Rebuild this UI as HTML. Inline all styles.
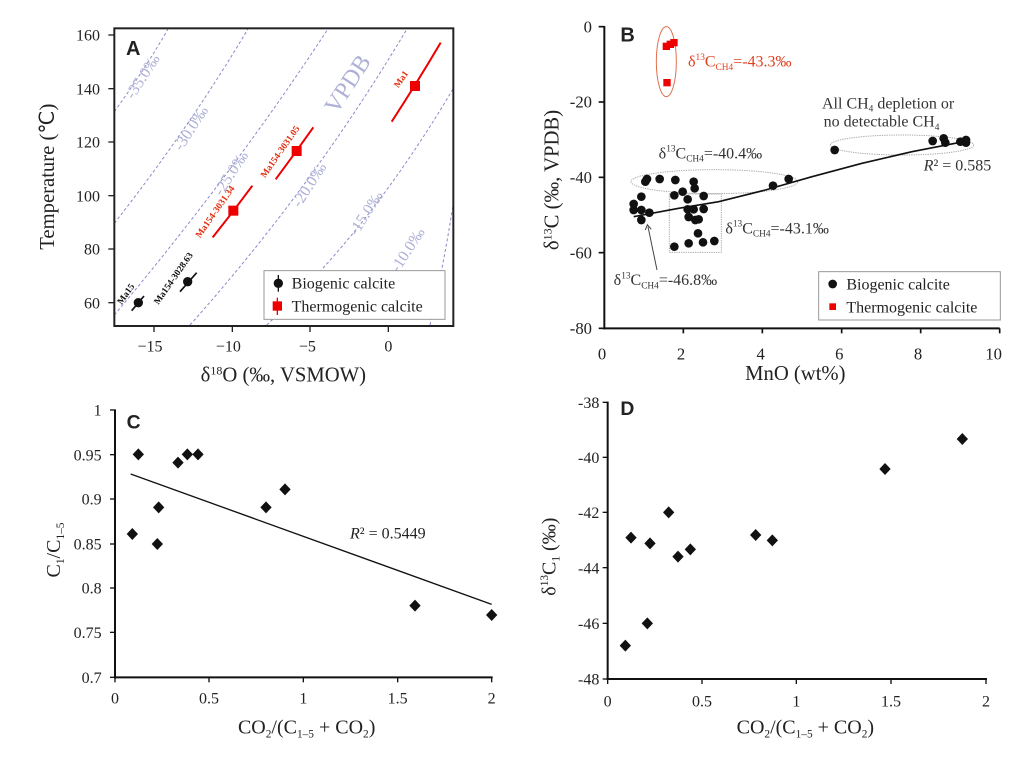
<!DOCTYPE html>
<html><head><meta charset="utf-8"><style>html,body{margin:0;padding:0;background:#fff;}svg{display:block}</style></head>
<body>
<svg width="1024" height="767" viewBox="0 0 3072 2301" xmlns="http://www.w3.org/2000/svg" font-family="'Liberation Serif', serif">
<rect width="3072" height="2301" fill="#fff"/>
<!-- Panel A -->
<g>
<g fill="none" stroke="#8a8acb" stroke-width="3" stroke-dasharray="9,7">
<path d="M343,335 Q440,200 505,85"/>
<path d="M343,670 Q570,380 745,85"/>
<path d="M343,945 Q700,520 985,85"/>
<path d="M570,975 Q940,560 1222,85"/>
<path d="M800,975 Q1110,690 1360,265"/>
<path d="M1290,975 Q1330,800 1360,610"/>
</g>
<g fill="#aeb0d6" font-size="48">
<text transform="translate(400,300) rotate(-57)">-35.0‰</text>
<text transform="translate(545,455) rotate(-57)">-30.0‰</text>
<text transform="translate(665,590) rotate(-57)">-25.0‰</text>
<text transform="translate(900,625) rotate(-57)">-20.0‰</text>
<text transform="translate(1070,710) rotate(-57)">-15.0‰</text>
<text transform="translate(1195,820) rotate(-57)">-10.0‰</text>
<text transform="translate(1010,345) rotate(-57)" font-size="72">VPDB</text>
</g>
<rect x="343" y="85" width="1017" height="893" fill="none" stroke="#222" stroke-width="6"/>
<g stroke="#222" stroke-width="4">
<line x1="325" y1="105" x2="343" y2="105"/><line x1="325" y1="266" x2="343" y2="266"/><line x1="325" y1="426" x2="343" y2="426"/><line x1="325" y1="587" x2="343" y2="587"/><line x1="325" y1="747" x2="343" y2="747"/><line x1="325" y1="908" x2="343" y2="908"/>
<line x1="462" y1="978" x2="462" y2="996"/><line x1="697" y1="978" x2="697" y2="996"/><line x1="930" y1="978" x2="930" y2="996"/><line x1="1165" y1="978" x2="1165" y2="996"/>
</g>
<g font-size="48" fill="#222" text-anchor="end">
<text x="300" y="122">160</text><text x="300" y="283">140</text><text x="300" y="443">120</text><text x="300" y="604">100</text><text x="300" y="764">80</text><text x="300" y="925">60</text>
</g>
<g font-size="48" fill="#222" text-anchor="middle">
<text x="450" y="1055">−15</text><text x="685" y="1055">−10</text><text x="922" y="1055">−5</text><text x="1165" y="1055">0</text>
<text x="850" y="1145" font-size="62">δ<tspan font-size="36" dy="-22">18</tspan><tspan dy="22">O (‰, VSMOW)</tspan></text>
<text transform="translate(162,530) rotate(-90)" font-size="62">Temperature (℃)</text>
</g>
<text x="378" y="165" font-family="'Liberation Sans',sans-serif" font-weight="bold" font-size="60" fill="#222">A</text>
<g stroke="#e00" stroke-width="6" fill="none">
<path d="M1175,365 Q1250,250 1322,128"/><path d="M827,538 Q885,460 940,382"/><path d="M638,712 Q700,635 757,557"/>
</g>
<g fill="#e00"><rect x="1230" y="243" width="30" height="30"/><rect x="875" y="438" width="30" height="30"/><rect x="685" y="617" width="30" height="30"/></g>
<g stroke="#111" stroke-width="5"><line x1="395" y1="932" x2="432" y2="888"/><line x1="540" y1="875" x2="590" y2="818"/></g>
<g fill="#111"><circle cx="415" cy="908" r="14"/><circle cx="563" cy="845" r="14"/></g>
<g font-size="28" font-weight="bold">
<text transform="translate(1195,265) rotate(-55)" fill="#e03010">Ma1</text>
<text transform="translate(795,535) rotate(-55)" fill="#e03010">Ma154-3031.05</text>
<text transform="translate(600,715) rotate(-55)" fill="#e03010">Ma154-3031.34</text>
<text transform="translate(365,915) rotate(-55)" fill="#111">Ma15</text>
<text transform="translate(475,915) rotate(-55)" fill="#111">Ma154-3028.63</text>
</g>
<rect x="792" y="812" width="543" height="146" fill="#fff" stroke="#999" stroke-width="3"/>
<line x1="835" y1="825" x2="835" y2="875" stroke="#111" stroke-width="4"/><circle cx="835" cy="850" r="14" fill="#111"/>
<line x1="832" y1="893" x2="832" y2="945" stroke="#e00" stroke-width="4"/><rect x="818" y="904" width="28" height="28" fill="#e00"/>
<g font-size="48" fill="#222"><text x="875" y="866">Biogenic calcite</text><text x="875" y="935">Thermogenic calcite</text></g>
</g>

<!-- Panel B -->
<g transform="translate(1536,0)">
<g stroke="#111" stroke-width="6"><line x1="277" y1="78" x2="277" y2="988"/><line x1="274" y1="985" x2="1463" y2="985"/></g>
<g stroke="#111" stroke-width="5">
<line x1="260" y1="80" x2="277" y2="80"/><line x1="260" y1="306" x2="277" y2="306"/><line x1="260" y1="532" x2="277" y2="532"/><line x1="260" y1="758" x2="277" y2="758"/><line x1="260" y1="985" x2="277" y2="985"/>
<line x1="514" y1="985" x2="514" y2="1000"/><line x1="751" y1="985" x2="751" y2="1000"/><line x1="989" y1="985" x2="989" y2="1000"/><line x1="1226" y1="985" x2="1226" y2="1000"/><line x1="1463" y1="985" x2="1463" y2="1000"/>
</g>
<g font-size="50" fill="#222" text-anchor="end">
<text x="240" y="97">0</text><text x="240" y="323">-20</text><text x="240" y="549">-40</text><text x="240" y="775">-60</text><text x="240" y="1002">-80</text>
</g>
<g font-size="50" fill="#222" text-anchor="middle">
<text x="270" y="1078">0</text><text x="507" y="1078">2</text><text x="746" y="1078">4</text><text x="982" y="1078">6</text><text x="1218" y="1078">8</text><text x="1445" y="1078">10</text>
<text x="850" y="1140" font-size="62">MnO (wt%)</text>
<text transform="translate(140,540) rotate(-90)" font-size="62">δ<tspan font-size="36" dy="-22">13</tspan><tspan dy="22">C (‰, VPDB)</tspan></text>
</g>
<text x="325" y="125" font-family="'Liberation Sans',sans-serif" font-weight="bold" font-size="60" fill="#222">B</text>
<ellipse cx="463" cy="185" rx="30" ry="105" fill="none" stroke="#e07050" stroke-width="3"/>
<g fill="none" stroke="#aaa" stroke-width="3" stroke-dasharray="4,3">
<ellipse cx="607" cy="545" rx="250" ry="36"/><ellipse cx="1170" cy="435" rx="215" ry="30"/>
<rect x="472" y="582" width="156" height="175"/>
</g>
<path d="M365,650 L500,625 L620,605 L760,570 L900,530 L1050,490 L1200,455 L1370,422" fill="none" stroke="#111" stroke-width="5"/>
<line x1="435" y1="810" x2="408" y2="680" stroke="#444" stroke-width="3"/><path d="M400,690 L406,674 L418,688" fill="none" stroke="#444" stroke-width="3"/>
<g fill="#e00"><rect x="452" y="128" width="22" height="22"/><rect x="464" y="122" width="22" height="22"/><rect x="475" y="117" width="22" height="22"/><rect x="454" y="237" width="22" height="22"/></g>
<g fill="#111">
<circle cx="365" cy="612" r="13"/><circle cx="365" cy="630" r="13"/><circle cx="388" cy="590" r="13"/><circle cx="388" cy="630" r="13"/><circle cx="388" cy="660" r="13"/><circle cx="400" cy="545" r="13"/><circle cx="405" cy="537" r="13"/><circle cx="412" cy="638" r="13"/><circle cx="443" cy="537" r="13"/><circle cx="490" cy="540" r="13"/><circle cx="487" cy="586" r="13"/><circle cx="512" cy="575" r="13"/><circle cx="527" cy="598" r="13"/><circle cx="527" cy="628" r="13"/><circle cx="545" cy="628" r="13"/><circle cx="530" cy="651" r="13"/><circle cx="545" cy="545" r="13"/><circle cx="548" cy="565" r="13"/><circle cx="575" cy="588" r="13"/><circle cx="575" cy="627" r="13"/><circle cx="550" cy="660" r="13"/><circle cx="560" cy="658" r="13"/><circle cx="558" cy="700" r="13"/><circle cx="530" cy="730" r="13"/><circle cx="487" cy="740" r="13"/><circle cx="573" cy="727" r="13"/><circle cx="607" cy="723" r="13"/><circle cx="783" cy="557" r="13"/><circle cx="830" cy="537" r="13"/><circle cx="968" cy="450" r="13"/><circle cx="1262" cy="423" r="13"/><circle cx="1295" cy="415" r="13"/><circle cx="1300" cy="428" r="13"/><circle cx="1345" cy="425" r="13"/><circle cx="1362" cy="420" r="13"/><circle cx="1362" cy="428" r="13"/>
</g>
<g font-size="48" fill="#333">
<text x="528" y="200" fill="#e04020">δ<tspan font-size="28" dy="-20">13</tspan><tspan dy="20">C</tspan><tspan font-size="28" dy="10">CH4</tspan><tspan dy="-10">=-43.3‰</tspan></text>
<text x="440" y="475">δ<tspan font-size="28" dy="-20">13</tspan><tspan dy="20">C</tspan><tspan font-size="28" dy="10">CH4</tspan><tspan dy="-10">=-40.4‰</tspan></text>
<text x="640" y="700">δ<tspan font-size="28" dy="-20">13</tspan><tspan dy="20">C</tspan><tspan font-size="28" dy="10">CH4</tspan><tspan dy="-10">=-43.1‰</tspan></text>
<text x="305" y="855">δ<tspan font-size="28" dy="-20">13</tspan><tspan dy="20">C</tspan><tspan font-size="28" dy="10">CH4</tspan><tspan dy="-10">=-46.8‰</tspan></text>
<text x="930" y="325">All CH<tspan font-size="28" dy="10">4</tspan><tspan dy="-10"> depletion or</tspan></text>
<text x="935" y="380">no detectable  CH<tspan font-size="28" dy="10">4</tspan></text>
<text x="1235" y="512"><tspan font-style="italic">R</tspan>² = 0.585</text>
</g>
<rect x="920" y="815" width="545" height="145" fill="#fff" stroke="#999" stroke-width="3"/>
<circle cx="962" cy="852" r="13" fill="#111"/><rect x="952" y="910" width="20" height="20" fill="#e00"/>
<g font-size="48" fill="#222"><text x="1003" y="868">Biogenic calcite</text><text x="1003" y="937">Thermogenic calcite</text></g>
</g>

<!-- Panel C -->
<g transform="translate(0,1170)">
<g stroke="#111" stroke-width="6"><line x1="345" y1="58" x2="345" y2="865"/><line x1="342" y1="862" x2="1478" y2="862"/></g>
<g stroke="#111" stroke-width="4">
<line x1="330" y1="60" x2="345" y2="60"/><line x1="330" y1="194" x2="345" y2="194"/><line x1="330" y1="327" x2="345" y2="327"/><line x1="330" y1="462" x2="345" y2="462"/><line x1="330" y1="594" x2="345" y2="594"/><line x1="330" y1="727" x2="345" y2="727"/><line x1="330" y1="862" x2="345" y2="862"/>
<line x1="345" y1="862" x2="345" y2="877"/><line x1="627" y1="862" x2="627" y2="877"/><line x1="910" y1="862" x2="910" y2="877"/><line x1="1193" y1="862" x2="1193" y2="877"/><line x1="1475" y1="862" x2="1475" y2="877"/>
</g>
<g font-size="48" fill="#222" text-anchor="end">
<text x="305" y="77">1</text><text x="305" y="211">0.95</text><text x="305" y="344">0.9</text><text x="305" y="479">0.85</text><text x="305" y="611">0.8</text><text x="305" y="744">0.75</text><text x="305" y="879">0.7</text>
</g>
<g font-size="48" fill="#222" text-anchor="middle">
<text x="345" y="940">0</text><text x="627" y="940">0.5</text><text x="910" y="940">1</text><text x="1193" y="940">1.5</text><text x="1475" y="940">2</text>
<text x="920" y="1030" font-size="60">CO<tspan font-size="34" dy="12">2</tspan><tspan dy="-12">/(C</tspan><tspan font-size="34" dy="12">1–5</tspan><tspan dy="-12"> + CO</tspan><tspan font-size="34" dy="12">2</tspan><tspan dy="-12">)</tspan></text>
<text transform="translate(180,480) rotate(-90)" font-size="60">C<tspan font-size="34" dy="12">1</tspan><tspan dy="-12">/C</tspan><tspan font-size="34" dy="12">1–5</tspan></text>
</g>
<text x="380" y="115" font-family="'Liberation Sans',sans-serif" font-weight="bold" font-size="58" fill="#222">C</text>
<line x1="392" y1="252" x2="1475" y2="643" stroke="#111" stroke-width="4"/>
<text x="1050" y="445" font-size="48" fill="#222"><tspan font-style="italic">R</tspan>² = 0.5449</text>
<g fill="#111">
<path d="M397,414 l17,18 l-17,18 l-17,-18z"/><path d="M415,175 l17,18 l-17,18 l-17,-18z"/><path d="M472,444 l17,18 l-17,18 l-17,-18z"/><path d="M476,334 l17,18 l-17,18 l-17,-18z"/><path d="M534,200 l17,18 l-17,18 l-17,-18z"/><path d="M562,175 l17,18 l-17,18 l-17,-18z"/><path d="M594,175 l17,18 l-17,18 l-17,-18z"/><path d="M798,334 l17,18 l-17,18 l-17,-18z"/><path d="M855,280 l17,18 l-17,18 l-17,-18z"/><path d="M1245,629 l17,18 l-17,18 l-17,-18z"/><path d="M1475,657 l17,18 l-17,18 l-17,-18z"/>
</g>
</g>

<!-- Panel D -->
<g transform="translate(1536,1170)">
<g stroke="#111" stroke-width="6"><line x1="287" y1="35" x2="287" y2="870"/><line x1="284" y1="867" x2="1425" y2="867"/></g>
<g stroke="#111" stroke-width="4">
<line x1="272" y1="37" x2="287" y2="37"/><line x1="272" y1="202" x2="287" y2="202"/><line x1="272" y1="367" x2="287" y2="367"/><line x1="272" y1="533" x2="287" y2="533"/><line x1="272" y1="700" x2="287" y2="700"/><line x1="272" y1="867" x2="287" y2="867"/>
<line x1="287" y1="867" x2="287" y2="882"/><line x1="570" y1="867" x2="570" y2="882"/><line x1="853" y1="867" x2="853" y2="882"/><line x1="1137" y1="867" x2="1137" y2="882"/><line x1="1422" y1="867" x2="1422" y2="882"/>
</g>
<g font-size="48" fill="#222" text-anchor="end">
<text x="262" y="54">-38</text><text x="262" y="219">-40</text><text x="262" y="384">-42</text><text x="262" y="550">-44</text><text x="262" y="717">-46</text><text x="262" y="884">-48</text>
</g>
<g font-size="48" fill="#222" text-anchor="middle">
<text x="287" y="950">0</text><text x="570" y="950">0.5</text><text x="853" y="950">1</text><text x="1137" y="950">1.5</text><text x="1422" y="950">2</text>
<text x="880" y="1030" font-size="60">CO<tspan font-size="34" dy="12">2</tspan><tspan dy="-12">/(C</tspan><tspan font-size="34" dy="12">1–5</tspan><tspan dy="-12"> + CO</tspan><tspan font-size="34" dy="12">2</tspan><tspan dy="-12">)</tspan></text>
<text transform="translate(130,500) rotate(-90)" font-size="60">δ<tspan font-size="34" dy="-22">13</tspan><tspan dy="22">C</tspan><tspan font-size="34" dy="12">1</tspan><tspan dy="-12"> (‰)</tspan></text>
</g>
<text x="325" y="75" font-family="'Liberation Sans',sans-serif" font-weight="bold" font-size="58" fill="#222">D</text>
<g fill="#111">
<path d="M340,749 l17,18 l-17,18 l-17,-18z"/><path d="M357,425 l17,18 l-17,18 l-17,-18z"/><path d="M406,682 l17,18 l-17,18 l-17,-18z"/><path d="M414,442 l17,18 l-17,18 l-17,-18z"/><path d="M470,349 l17,18 l-17,18 l-17,-18z"/><path d="M498,482 l17,18 l-17,18 l-17,-18z"/><path d="M535,460 l17,18 l-17,18 l-17,-18z"/><path d="M731,417 l17,18 l-17,18 l-17,-18z"/><path d="M781,433 l17,18 l-17,18 l-17,-18z"/><path d="M1119,219 l17,18 l-17,18 l-17,-18z"/><path d="M1351,129 l17,18 l-17,18 l-17,-18z"/>
</g>
</g>
</svg>
</body></html>
